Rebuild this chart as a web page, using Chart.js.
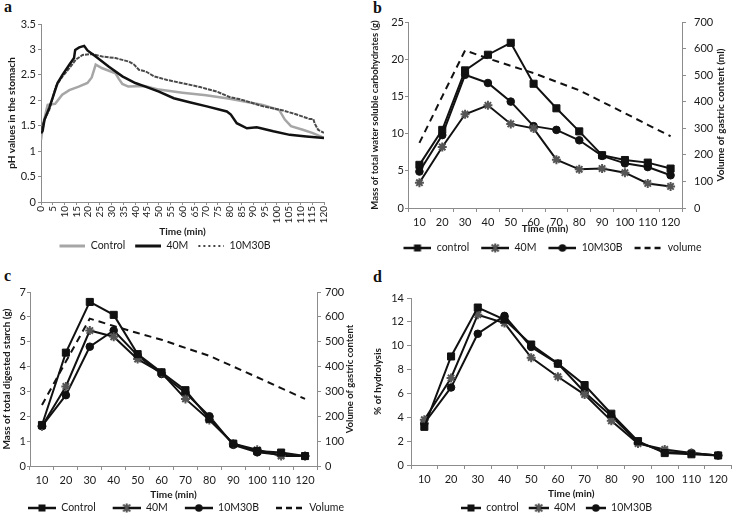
<!DOCTYPE html>
<html>
<head>
<meta charset="utf-8">
<script src="https://cdn.jsdelivr.net/npm/chart.js@4.4.0/dist/chart.umd.min.js"></script>
<style>
  body { margin: 0; background: #fff; width: 738px; height: 515px; position: relative; overflow: hidden; }
  canvas { position: absolute; }
  .tag { position: absolute; font: bold 16px "Liberation Serif", serif; color: #111; line-height: 1; }
</style>
</head>
<body>
<div class="tag" style="left:4px;top:-1px">a</div>
<div class="tag" style="left:373px;top:0px">b</div>
<div class="tag" style="left:4px;top:268px">c</div>
<div class="tag" style="left:373px;top:269px">d</div>
<canvas id="chartC" width="369" height="267" style="left:0;top:258px"></canvas>
<canvas id="chartD" width="369" height="267" style="left:369px;top:258px"></canvas>
<canvas id="chartA" width="369" height="268" style="left:0;top:0"></canvas>
<canvas id="chartB" width="369" height="268" style="left:369px;top:0"></canvas>
<script>
// --- panel a: pH in the stomach ---
const ctrlMin = [0, 1, 2.8, 6, 9, 12, 16, 19.7, 21.5, 22.5, 23.2, 26, 31.6, 33, 34.5, 37, 44, 50, 60, 70, 80, 88, 94, 101, 103.4, 106, 111, 115, 120];
const ctrlPh  = [1.22, 1.55, 1.91, 1.93, 2.11, 2.2, 2.27, 2.34, 2.45, 2.6, 2.7, 2.63, 2.53, 2.42, 2.32, 2.27, 2.28, 2.21, 2.15, 2.1, 2.03, 1.96, 1.91, 1.81, 1.62, 1.49, 1.42, 1.36, 1.26];
const m40Min = [0, 0.7, 1.5, 3.5, 5.6, 7, 9.1, 12, 14, 14.5, 16.2, 18.3, 19.7, 23.2, 28.8, 34.5, 40, 44.3, 50, 56.3, 63, 70.3, 78.8, 80.5, 83, 87.3, 91.5, 98.5, 105.5, 112.5, 120];
const m40Ph  = [1.35, 1.4, 1.62, 1.85, 2.14, 2.34, 2.5, 2.7, 2.83, 2.99, 3.04, 3.07, 2.98, 2.86, 2.66, 2.47, 2.34, 2.27, 2.17, 2.04, 1.96, 1.88, 1.78, 1.72, 1.55, 1.45, 1.47, 1.39, 1.32, 1.29, 1.26];
const mixMin = [0, 1.5, 3.5, 6.3, 9.1, 12, 14.8, 17.6, 21.8, 26, 31.6, 37.3, 39.5, 41.5, 44.3, 48, 53.5, 60.5, 67.5, 74.6, 80.2, 84.4, 94.3, 102.7, 108.4, 114, 115.5, 116, 117.5, 120];
const mixPh  = [1.42, 1.62, 1.81, 2.27, 2.47, 2.63, 2.8, 2.89, 2.91, 2.86, 2.83, 2.76, 2.7, 2.6, 2.57, 2.47, 2.4, 2.33, 2.26, 2.17, 2.06, 2.02, 1.88, 1.8, 1.72, 1.63, 1.63, 1.55, 1.42, 1.36];

// --- panels b-d: sampled every 10 min ---
const sampleTimes = ['10', '20', '30', '40', '50', '60', '70', '80', '90', '100', '110', '120'];
const gastricVolume = [245, 420, 593, 563, 535, 508, 475, 443, 400, 357, 313, 270];

const wscControl = [5.8, 10.5, 18.5, 20.6, 22.2, 16.7, 13.4, 10.3, 7.1, 6.45, 6.1, 5.3];
const wsc40M     = [3.4, 8.2, 12.6, 13.8, 11.3, 10.7, 6.5, 5.2, 5.3, 4.75, 3.3, 2.9];
const wsc10M30B  = [4.9, 9.8, 17.9, 16.8, 14.3, 11.0, 10.5, 9.1, 7.0, 6.0, 5.5, 4.4];

const starchControl = [1.65, 4.56, 6.6, 6.08, 4.5, 3.77, 3.05, 1.9, 0.9, 0.6, 0.54, 0.4];
const starch40M     = [1.6, 3.2, 5.45, 5.2, 4.3, 3.75, 2.7, 1.85, 0.9, 0.65, 0.4, 0.4];
const starch10M30B  = [1.6, 2.85, 4.8, 5.45, 4.45, 3.7, 2.95, 2.0, 0.85, 0.55, 0.45, 0.4];

const hydroControl = [3.2, 9.1, 13.2, 12.2, 10.1, 8.5, 6.7, 4.3, 2.0, 1.0, 0.9, 0.8];
const hydro40M     = [3.8, 7.3, 12.6, 11.9, 9.0, 7.4, 5.9, 3.7, 1.8, 1.3, 1.0, 0.8];
const hydro10M30B  = [3.5, 6.5, 11.0, 12.5, 9.9, 8.5, 6.1, 4.1, 1.9, 1.1, 1.0, 0.8];

Chart.defaults.font.family = 'Lato, "Open Sans", sans-serif';
Chart.defaults.color = '#1a1a1a';
Chart.defaults.animation = false;

const AXIS = '#8c8c8c';
const INK = '#111';

function pairs(xs, ys) {
  return xs.map((x, i) => ({ x: x, y: ys[i] }));
}

// little line+marker swatch used as legend point style
function swatch(lead, len, o) {
  const c = document.createElement('canvas');
  c.width = lead + len;
  c.height = 12;
  const g = c.getContext('2d');
  g.strokeStyle = o.color;
  g.lineWidth = o.width;
  g.setLineDash(o.dash || []);
  g.beginPath();
  g.moveTo(lead, 6);
  g.lineTo(lead + len, 6);
  g.stroke();
  g.setLineDash([]);
  const cx = lead + len / 2;
  g.fillStyle = o.color;
  if (o.marker === 'rect') {
    g.fillRect(cx - 3.5, 2.5, 7, 7);
  } else if (o.marker === 'circle') {
    g.beginPath();
    g.arc(cx, 6, 3.8, 0, Math.PI * 2);
    g.fill();
  } else if (o.marker === 'star') {
    g.lineWidth = 2;
    g.strokeStyle = '#555';
    g.beginPath();
    g.moveTo(cx - 3.5, 2.5); g.lineTo(cx + 3.5, 9.5);
    g.moveTo(cx + 3.5, 2.5); g.lineTo(cx - 3.5, 9.5);
    g.moveTo(cx, 1.5); g.lineTo(cx, 10.5);
    g.stroke();
  }
  return c;
}

function legendCfg(symbols, pad) {
  return {
    position: 'bottom',
    labels: {
      usePointStyle: true,
      pointStyleWidth: symbols[0].width,
      padding: pad,
      font: { size: 10.5 },
      color: '#1a1a1a',
      generateLabels: chart => chart.data.datasets.map((ds, i) => ({
        text: ds.label,
        pointStyle: symbols[i],
        datasetIndex: i,
        hidden: false,
        lineWidth: 0,
        fontColor: '#1a1a1a'
      }))
    }
  };
}

function rightTitlePlugin(text, offset, font) {
  return {
    id: 'rightTitle',
    afterDraw(chart) {
      const s = chart.scales.y1;
      const ctx = chart.ctx;
      ctx.save();
      ctx.translate(s.right - offset, (s.top + s.bottom) / 2);
      ctx.rotate(-Math.PI / 2);
      ctx.font = font;
      ctx.fillStyle = '#1a1a1a';
      ctx.textAlign = 'center';
      ctx.textBaseline = 'middle';
      ctx.fillText(text, 0, 0);
      ctx.restore();
    }
  };
}

function yAxis(pos, max, step, width, tickLen, tickPad, title, titleSize, titlePad) {
  return {
    position: pos,
    min: 0,
    max: max,
    afterFit: s => { s.width = width; },
    border: { color: AXIS },
    grid: { drawOnChartArea: false, color: AXIS, tickLength: tickLen },
    ticks: { stepSize: step, padding: tickPad, font: { size: 11 }, callback: v => String(v) },
    title: title ? {
      display: true,
      text: title,
      font: { size: titleSize, weight: 'bold', lineHeight: 1 },
      padding: { top: titlePad, bottom: 0 }
    } : { display: false }
  };
}

function catAxis(height, titlePad) {
  return {
    type: 'category',
    offset: true,
    afterFit: s => { s.height = height; },
    border: { color: AXIS },
    grid: { offset: true, drawOnChartArea: false, color: AXIS, tickLength: 4 },
    ticks: { padding: 4, font: { size: 11 }, maxRotation: 0, autoSkip: false },
    title: {
      display: true,
      text: 'Time (min)',
      font: { size: 10, weight: 'bold', lineHeight: 1 },
      padding: { top: 0, bottom: titlePad }
    }
  };
}

function series(label, data, kind) {
  const ds = {
    label: label,
    data: data,
    yAxisID: 'y',
    borderColor: INK,
    backgroundColor: INK,
    borderWidth: 2,
    tension: 0,
    pointBorderWidth: 1
  };
  if (kind === 'rect') { ds.pointStyle = 'rect'; ds.pointRadius = 5; }
  if (kind === 'circle') { ds.pointStyle = 'circle'; ds.pointRadius = 3.8; }
  if (kind === 'star') {
    ds.pointStyle = 'star'; ds.pointRadius = 4.5;
    ds.pointBorderColor = '#555'; ds.pointBorderWidth = 2;
  }
  return ds;
}

function volumeSet(label) {
  return {
    label: label,
    data: gastricVolume,
    yAxisID: 'y1',
    borderColor: INK,
    borderWidth: 2,
    borderDash: [7, 5],
    pointRadius: 0,
    tension: 0
  };
}

// ---- a ----
const symA = [
  swatch(6, 26, { color: '#a6a6a6', width: 3 }),
  swatch(6, 26, { color: INK, width: 3 }),
  swatch(6, 26, { color: '#444', width: 2, dash: [2, 3] })
];
new Chart('chartA', {
  type: 'line',
  data: {
    datasets: [
      { label: 'Control', data: pairs(ctrlMin, ctrlPh), borderColor: '#a6a6a6', borderWidth: 2.5, pointRadius: 0, order: 3 },
      { label: '40M', data: pairs(m40Min, m40Ph), borderColor: INK, borderWidth: 2.5, pointRadius: 0, order: 1 },
      { label: '10M30B', data: pairs(mixMin, mixPh), borderColor: '#4a4a4a', borderWidth: 2, borderDash: [4, 1], pointRadius: 0, order: 2 }
    ]
  },
  options: {
    responsive: false,
    layout: { padding: { top: 24, right: 45, bottom: 6.75, left: 0 } },
    plugins: { legend: legendCfg(symA, 4), tooltip: { enabled: false } },
    scales: {
      x: {
        type: 'linear',
        min: 0,
        max: 120,
        afterFit: s => { s.height = 34.75; },
        border: { color: AXIS },
        grid: { drawOnChartArea: false, color: AXIS, tickLength: 3 },
        ticks: { stepSize: 5, minRotation: 90, maxRotation: 90, autoSkip: false, padding: 1, font: { size: 10 } },
        title: { display: true, text: 'Time (min)', font: { size: 10, weight: 'bold', lineHeight: 1 }, padding: { top: 0, bottom: 0 } }
      },
      y: yAxis('left', 3.5, 0.5, 41, 3, 2, 'pH values in the stomach', 10, 7)
    }
  }
});

// ---- b ----
const symB = [
  swatch(8, 28, { color: INK, width: 2.5, marker: 'rect' }),
  swatch(8, 28, { color: INK, width: 2.5, marker: 'star' }),
  swatch(8, 28, { color: INK, width: 2.5, marker: 'circle' }),
  swatch(8, 28, { color: INK, width: 2.5, dash: [6, 4] })
];
new Chart('chartB', {
  type: 'line',
  data: {
    labels: sampleTimes,
    datasets: [
      series('control', wscControl, 'rect'),
      series('40M', wsc40M, 'star'),
      series('10M30B', wsc10M30B, 'circle'),
      volumeSet('volume')
    ]
  },
  options: {
    responsive: false,
    layout: { padding: { top: 22, right: 10, bottom: 4.75, left: 0 } },
    plugins: { legend: legendCfg(symB, 4), tooltip: { enabled: false } },
    scales: {
      x: catAxis(30.75, 4.75),
      y: yAxis('left', 25, 5, 39, 3, 1, 'Mass of total water soluble carbohydrates (g)', 9.5, 1),
      y1: yAxis('right', 700, 100, 46, 4, 8, null)
    }
  },
  plugins: [rightTitlePlugin('Volume of gastric content (ml)', 7, 'bold 10px Lato, sans-serif')]
});

// ---- c ----
const symC = [
  swatch(15, 28, { color: INK, width: 2.5, marker: 'rect' }),
  swatch(15, 28, { color: INK, width: 2.5, marker: 'star' }),
  swatch(15, 28, { color: INK, width: 2.5, marker: 'circle' }),
  swatch(15, 28, { color: INK, width: 2.5, dash: [6, 4] })
];
new Chart('chartC', {
  type: 'line',
  data: {
    labels: sampleTimes,
    datasets: [
      series('Control', starchControl, 'rect'),
      series('40M', starch40M, 'star'),
      series('10M30B', starch10M30B, 'circle'),
      volumeSet('Volume')
    ]
  },
  options: {
    responsive: false,
    layout: { padding: { top: 34, right: 12, bottom: 1.75, left: 0 } },
    plugins: { legend: legendCfg(symC, 2), tooltip: { enabled: false } },
    scales: {
      x: catAxis(34.75, 0.75),
      y: yAxis('left', 7, 1, 30, 3, 1, 'Mass of total digested starch (g)', 10, 2),
      y1: yAxis('right', 700, 100, 40, 4, 4, null)
    }
  },
  plugins: [rightTitlePlugin('Volume of gastric content', 7, 'bold 9.5px Lato, sans-serif')]
});

// ---- d ----
const symD = [
  swatch(8, 20, { color: INK, width: 2.5, marker: 'rect' }),
  swatch(8, 20, { color: INK, width: 2.5, marker: 'star' }),
  swatch(8, 20, { color: INK, width: 2.5, marker: 'circle' })
];
new Chart('chartD', {
  type: 'line',
  data: {
    labels: sampleTimes,
    datasets: [
      series('control', hydroControl, 'rect'),
      series('40M', hydro40M, 'star'),
      series('10M30B', hydro10M30B, 'circle')
    ]
  },
  options: {
    responsive: false,
    layout: { padding: { top: 40, right: 2, bottom: 1.75, left: 0 } },
    plugins: { legend: legendCfg(symD, 2), tooltip: { enabled: false } },
    scales: {
      x: catAxis(35.75, 1.75),
      y: yAxis('left', 14, 2, 42, 4, 3, '% of hydrolysis', 10, 4)
    }
  }
});
</script>
</body>
</html>
